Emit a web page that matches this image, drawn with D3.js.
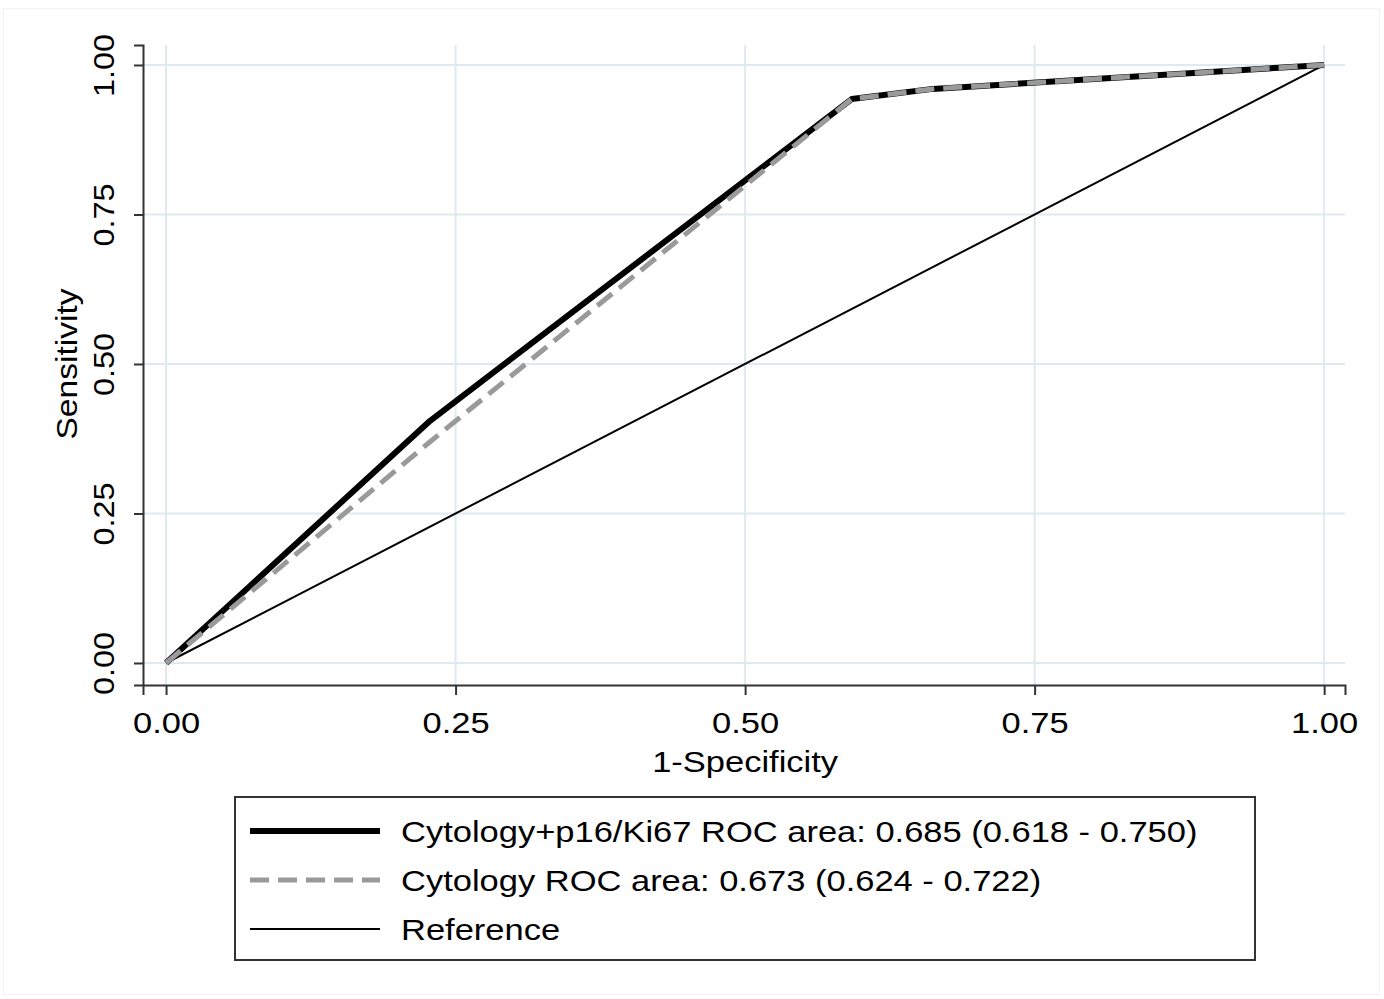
<!DOCTYPE html>
<html>
<head>
<meta charset="utf-8">
<script src="https://cdn.jsdelivr.net/npm/d3@7"></script>
<style>
  body { margin: 0; background: #fff; }
  text { font-family: "Liberation Sans", Arial, sans-serif; }
</style>
</head>
<body>
<div id="roc"></div>
<script>
// ROC curve points
const comboFpr = [0, 0.228, 0.592, 0.662, 1];
const comboTpr = [0, 0.405, 0.943, 0.960, 1];
const cytoFpr = [0, 0.228, 0.592, 0.662, 1];
const cytoTpr = [0, 0.370, 0.943, 0.960, 1];
const refFpr = [0, 1];
const refTpr = [0, 1];
const ticks = [0, 0.25, 0.5, 0.75, 1];
const legendLabels = [
    "Cytology+p16/Ki67 ROC area: 0.685 (0.618 - 0.750)",
    "Cytology ROC area: 0.673 (0.624 - 0.722)",
    "Reference"
];

const width = 1384;
const height = 999;
const plotLeft = 143, plotRight = 1345, plotTop = 45, plotBottom = 685;
// the original text is a bit wide for its height
const stretch = 1.15;

const svg = d3.select("#roc")
    .append("svg")
    .attr("width", width)
    .attr("height", height);

// faint outer frame
svg.append("rect")
    .attr("x", 3.5).attr("y", 8.5)
    .attr("width", 1376).attr("height", 986)
    .attr("fill", "none")
    .attr("stroke", "#eef3f3");

const x = d3.scaleLinear().domain([-0.0199, 1.018]).range([plotLeft, plotRight]);
const y = d3.scaleLinear().domain([-0.0368, 1.0334]).range([plotBottom, plotTop]);

// grid
const grid = svg.append("g").attr("stroke", "#dfeaee").attr("stroke-width", 2);
grid.selectAll(".gx").data(ticks).join("line")
    .attr("x1", d => x(d)).attr("x2", d => x(d))
    .attr("y1", plotTop).attr("y2", plotBottom);
grid.selectAll(".gy").data(ticks).join("line")
    .attr("y1", d => y(d)).attr("y2", d => y(d))
    .attr("x1", plotLeft).attr("x2", plotRight);

// axes
const xAxis = svg.append("g")
    .attr("transform", `translate(0,${plotBottom})`)
    .call(d3.axisBottom(x).tickValues(ticks).tickFormat(d3.format(".2f")).tickSizeOuter(0).tickSize(10).tickPadding(10));
const yAxis = svg.append("g")
    .attr("transform", `translate(${plotLeft},0)`)
    .call(d3.axisLeft(y).tickValues(ticks).tickFormat(d3.format(".2f")).tickSizeOuter(0).tickSize(9).tickPadding(10));

[xAxis, yAxis].forEach(a => {
    a.select(".domain").attr("stroke", "#333").attr("stroke-width", 2);
    a.selectAll(".tick line").attr("stroke", "#333").attr("stroke-width", 2);
    a.selectAll(".tick text").attr("font-size", 30).attr("fill", "#000");
});
xAxis.selectAll(".tick text")
    .attr("dy", "0.95em")
    .attr("transform", `scale(${stretch},1)`);
yAxis.selectAll(".tick text")
    .attr("text-anchor", "middle")
    .attr("x", null)
    .attr("transform", "translate(-40,0) rotate(-90) scale(1.08,1)")
    .attr("dy", "0.35em");

// axis titles
svg.append("text")
    .attr("transform", `translate(${(x(0) + x(1)) / 2},772) scale(${stretch},1)`)
    .attr("text-anchor", "middle")
    .attr("font-size", 30)
    .text("1-Specificity");
svg.append("text")
    .attr("transform", `translate(77,${(y(0) + y(1)) / 2}) rotate(-90) scale(1.12,1)`)
    .attr("text-anchor", "middle")
    .attr("font-size", 30)
    .text("Sensitivity");

// curves
const line = d3.line().x(d => x(d[0])).y(d => y(d[1]));

svg.append("path")
    .attr("d", line(d3.zip(refFpr, refTpr)))
    .attr("fill", "none").attr("stroke", "#000").attr("stroke-width", 2);
svg.append("path")
    .attr("d", line(d3.zip(comboFpr, comboTpr)))
    .attr("fill", "none").attr("stroke", "#000").attr("stroke-width", 6)
    .attr("stroke-linejoin", "round");
svg.append("path")
    .attr("d", line(d3.zip(cytoFpr, cytoTpr)))
    .attr("fill", "none").attr("stroke", "#9a9a9a").attr("stroke-width", 5)
    .attr("stroke-dasharray", "19,9");

// legend
const lg = svg.append("g");
lg.append("rect")
    .attr("x", 235).attr("y", 797)
    .attr("width", 1020).attr("height", 163)
    .attr("fill", "#fff").attr("stroke", "#333").attr("stroke-width", 2);

const legendStyles = [
    { stroke: "#000", width: 6, dash: null },
    { stroke: "#9a9a9a", width: 5, dash: "19,9" },
    { stroke: "#000", width: 2, dash: null }
];
const rowY = [831, 880, 929];

lg.selectAll(".swatch").data(legendLabels).join("line")
    .attr("x1", 250).attr("x2", 380)
    .attr("y1", (d, i) => rowY[i]).attr("y2", (d, i) => rowY[i])
    .attr("stroke", (d, i) => legendStyles[i].stroke)
    .attr("stroke-width", (d, i) => legendStyles[i].width)
    .attr("stroke-dasharray", (d, i) => legendStyles[i].dash);

lg.selectAll(".label").data(legendLabels).join("text")
    .attr("transform", (d, i) => `translate(401,${rowY[i]}) scale(${stretch},1)`)
    .attr("dy", "0.36em")
    .attr("font-size", 30)
    .text(d => d);
</script>
</body>
</html>
